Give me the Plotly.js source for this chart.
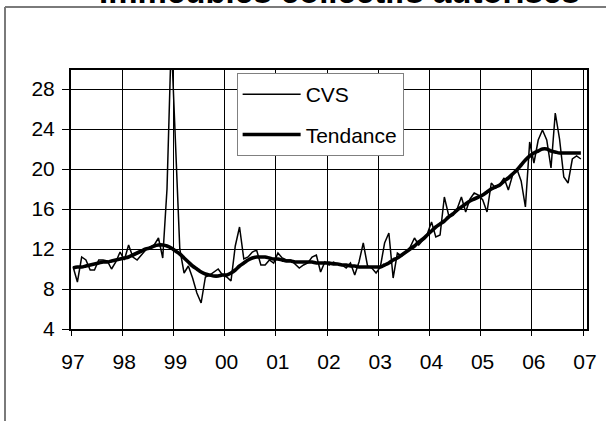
<!DOCTYPE html>
<html><head><meta charset="utf-8">
<script src="https://cdn.plot.ly/plotly-3.0.1.min.js"></script>
<style>html,body{margin:0;padding:0;background:#fff}#chart{width:606px;height:421px}</style>
</head><body><div id="chart"></div><script>
const years = [1997,1998,1999,2000,2001,2002,2003,2004,2005,2006];
const tickYears = [1997,1998,1999,2000,2001,2002,2003,2004,2005,2006,2007];
const tickLabels = ['97','98','99','00','01','02','03','04','05','06','07'];
const cvs = [
 10.2, 8.7,11.2,10.9, 9.9, 9.9,10.9,10.9,10.8,10.0,10.7,11.7,
 10.9,12.4,11.2,10.9,11.4,11.9,12.2,12.4,13.1,11.1,18.0,33.0,
 22.5,12.0, 9.6,10.3, 9.1, 7.6, 6.6, 9.2, 9.4, 9.7,10.0, 9.4,
  9.2, 8.8,12.3,14.2,11.0,11.2,11.7,11.9,10.4,10.4,10.9,10.6,
 11.6,11.1,10.9,10.9,10.5,10.1,10.4,10.6,11.2,11.4, 9.7,10.7,
 10.4,10.7,10.5,10.4,10.1,10.6, 9.4,10.7,12.6,10.3,10.1, 9.6,
 10.2,12.6,13.6, 9.1,11.6,11.3,11.7,12.2,13.1,12.4,12.9,13.5,
 14.7,13.2,13.4,17.2,15.4,15.4,16.0,17.2,15.7,17.0,17.6,17.4,
 16.9,15.7,18.6,18.1,18.4,19.1,17.9,19.4,20.0,18.8,16.2,22.7,
 20.6,22.9,23.9,22.9,20.1,25.6,23.0,19.2,18.6,21.0,21.3,21.0
];
const tendance = [
 10.1,10.2,10.2,10.3,10.4,10.5,10.6,10.7,10.7,10.8,10.9,11.0,
 11.1,11.2,11.4,11.6,11.8,12.0,12.1,12.3,12.4,12.4,12.3,12.1,
 11.8,11.5,11.1,10.7,10.3,10.0, 9.7, 9.5, 9.4, 9.3, 9.3, 9.4,
  9.4, 9.6, 9.9,10.3,10.6,10.9,11.1,11.2,11.2,11.2,11.1,11.0,
 11.0,10.9,10.8,10.8,10.7,10.7,10.7,10.7,10.7,10.6,10.6,10.6,
 10.6,10.5,10.5,10.4,10.4,10.3,10.3,10.2,10.2,10.2,10.2,10.2,
 10.2,10.4,10.6,10.9,11.1,11.4,11.7,12.0,12.3,12.7,13.0,13.4,
 13.8,14.2,14.5,14.8,15.2,15.5,15.9,16.2,16.5,16.8,17.0,17.2,
 17.4,17.7,18.0,18.2,18.4,18.8,19.1,19.5,19.9,20.4,20.9,21.3,
 21.6,21.8,22.0,22.0,21.8,21.7,21.6,21.6,21.6,21.6,21.6,21.6
];
const months = [];
years.forEach(y => { for (let k = 0; k < 12; k++) months.push(y + (k + 0.5) / 12); });

const FONT = 'Liberation Sans, Arial, Helvetica, sans-serif';
const traces = [
  {x: months, y: cvs, type: 'scatter', mode: 'lines', name: 'CVS',
   line: {color: '#000', width: 1.5}, legendgroup: 'a', hoverinfo: 'skip'},
  {x: months, y: tendance, type: 'scatter', mode: 'lines', name: 'Tendance',
   line: {color: '#000', width: 3.6, shape: 'spline'}, legendgroup: 'b', hoverinfo: 'skip'}
];
const layout = {
  width: 606, height: 421,
  margin: {l: 71, r: 19, t: 70, b: 92, pad: 0},
  paper_bgcolor: '#fff', plot_bgcolor: '#fff',
  font: {family: FONT, size: 21, color: '#000'},
  title: {text: 'Immeubles collectifs autorisés', font: {family: FONT, size: 33, weight: 'bold', color: '#000'},
          xref: 'container', x: 0.56, xanchor: 'center', yref: 'container', y: 0.993, yanchor: 'bottom'},
  xaxis: {range: [1997, 2007.078], tickmode: 'array', tickvals: tickYears, ticktext: tickLabels,
          showgrid: true, gridcolor: '#000', gridwidth: 1, zeroline: false,
          showline: true, mirror: true, linecolor: '#000', linewidth: 2,
          ticks: 'outside', ticklen: 5, tickwidth: 1, tickcolor: '#000',
          tickfont: {family: FONT, size: 21, color: '#000'},
          ticklabelstandoff: 8, ticklabelshift: 2, fixedrange: true},
  yaxis: {range: [4, 29.9], tickmode: 'linear', tick0: 4, dtick: 4,
          showgrid: true, gridcolor: '#000', gridwidth: 1, zeroline: false,
          showline: true, mirror: true, linecolor: '#000', linewidth: 2,
          ticks: 'outside', ticklen: 7, tickwidth: 1, tickcolor: '#000',
          tickfont: {family: FONT, size: 21, color: '#000'},
          ticklabelstandoff: 3, fixedrange: true},
  showlegend: true,
  legend: {x: 0.321, y: 0.9884, xanchor: 'left', yanchor: 'top', bgcolor: '#fff',
           bordercolor: '#808080', borderwidth: 1, font: {family: FONT, size: 21, color: '#000'},
           itemwidth: 58, tracegroupgap: 10, traceorder: 'grouped'},
  shapes: [
    {type: 'line', xref: 'paper', yref: 'paper', x0: -0.1279, x1: -0.1279, y0: 1.2432, y1: -0.4,
     line: {color: '#7a7a7a', width: 2}},
    {type: 'line', xref: 'paper', yref: 'paper', x0: -0.1279, x1: 1.1, y0: 1.2432, y1: 1.2432,
     line: {color: '#7a7a7a', width: 2}}
  ]
};
Plotly.newPlot('chart', traces, layout, {displayModeBar: false, staticPlot: true});
</script></body></html>
